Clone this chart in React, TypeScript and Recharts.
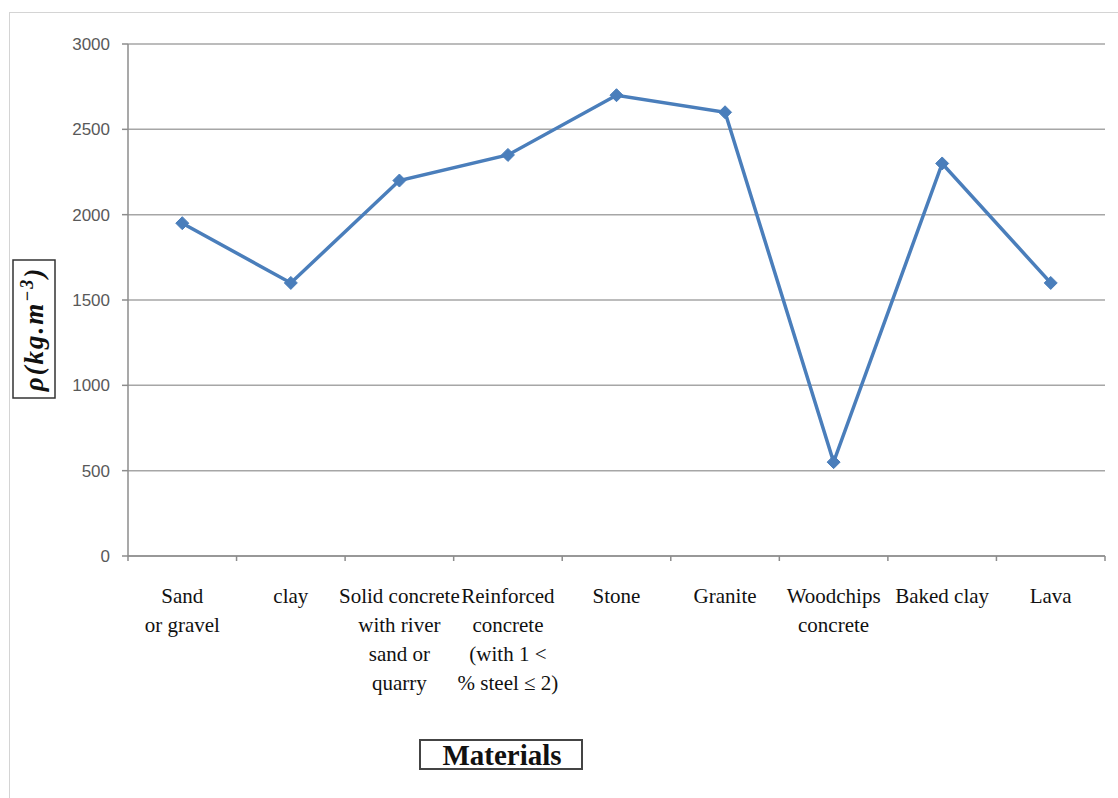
import { CartesianGrid, Label, Line, LineChart, XAxis, YAxis } from 'recharts';

const materials = [
	'Sand\nor gravel',
	'clay',
	'Solid concrete\nwith river\nsand or\nquarry',
	'Reinforced\nconcrete\n(with 1 <\n% steel ≤ 2)',
	'Stone',
	'Granite',
	'Woodchips\nconcrete',
	'Baked clay',
	'Lava',
];

const density = [1950, 1600, 2200, 2350, 2700, 2600, 550, 2300, 1600];

const densityTicks = [0, 500, 1000, 1500, 2000, 2500, 3000];

const data = materials.map((name, i) => ({ name, density: density[i] }));

const CHART_W = 1118;
const CHART_H = 798;
const PLOT_TOP = 44;
const PLOT_LEFT = 128;
const PLOT_RIGHT = 13;
const X_AXIS_H = 242;
const BAND = (CHART_W - PLOT_LEFT - PLOT_RIGHT) / materials.length;
const AXIS_GREY = '#8c8c8c';
const BLUE = '#4a7ebb';

// category labels sit under the band centre, tick marks fall on the band edges
const MaterialTick = (props: any) => {
	const { x, y, payload, index } = props;
	const lines: string[] = String(payload.value).split('\n');
	const half = BAND / 2;
	return (
		<g>
			<line x1={x - half} x2={x - half} y1={y} y2={y + 5} stroke={AXIS_GREY} strokeWidth={1.5} />
			{index === materials.length - 1 && (
				<line x1={x + half} x2={x + half} y1={y} y2={y + 5} stroke={AXIS_GREY} strokeWidth={1.5} />
			)}
			<text
				x={x}
				y={y + 47}
				textAnchor="middle"
				fontFamily="'Liberation Serif', serif"
				fontSize={21}
				fill="#111"
			>
				{lines.map((line, i) => (
					<tspan key={i} x={x} dy={i === 0 ? 0 : 29}>
						{line}
					</tspan>
				))}
			</text>
		</g>
	);
};

const Diamond = (props: any) => {
	const { cx, cy } = props;
	if (cx == null || cy == null) return null;
	const r = 6.5;
	return (
		<path
			d={`M${cx},${cy - r} L${cx + r},${cy} L${cx},${cy + r} L${cx - r},${cy} Z`}
			fill={BLUE}
			stroke={BLUE}
		/>
	);
};

const DensityLabel = () => (
	<g>
		<rect x={13} y={260} width={42} height={138} fill="#fff" stroke="#333" strokeWidth={1.5} />
		<text
			transform="translate(43,329) rotate(-90)"
			textAnchor="middle"
			fontFamily="'Liberation Serif', serif"
			fontStyle="italic"
			fontWeight="bold"
			fontSize={27}
			letterSpacing={2}
			fill="#111"
		>
			ρ(kg.m
			<tspan dy={-10} fontSize={18}>
				−3
			</tspan>
			<tspan dy={10}>)</tspan>
		</text>
	</g>
);

const MaterialsLabel = () => (
	<g>
		<rect x={420} y={740} width={162} height={29} fill="#fff" stroke="#444" strokeWidth={2} />
		<text
			x={502}
			y={765}
			textAnchor="middle"
			fontFamily="'Liberation Serif', serif"
			fontWeight="bold"
			fontSize={29}
			fill="#111"
		>
			Materials
		</text>
	</g>
);

const App = () => {
	return (
		<div
			style={{
				position: 'absolute',
				left: 0,
				top: 0,
				width: CHART_W,
				height: CHART_H,
				background: '#fff',
			}}
		>
			<div
				style={{
					position: 'absolute',
					left: 9,
					top: 12,
					right: -2,
					bottom: -2,
					border: '1.5px solid #d4d4d4',
				}}
			/>
			<LineChart
				width={CHART_W}
				height={CHART_H}
				data={data}
				margin={{ top: PLOT_TOP, right: PLOT_RIGHT, bottom: 0, left: 0 }}
				style={{ position: 'absolute', left: 0, top: 0 }}
			>
				<CartesianGrid vertical={false} stroke="#a6a6a6" strokeWidth={1.5} />
				<XAxis
					dataKey="name"
					interval={0}
					height={X_AXIS_H}
					padding={{ left: BAND / 2, right: BAND / 2 }}
					tickSize={0}
					tickMargin={0}
					tickLine={false}
					axisLine={{ stroke: AXIS_GREY, strokeWidth: 1.5 }}
					tick={<MaterialTick />}
				>
					<Label content={<MaterialsLabel />} />
				</XAxis>
				<YAxis
					width={PLOT_LEFT}
					domain={[0, 3000]}
					ticks={densityTicks}
					interval={0}
					tickSize={6}
					tickMargin={12}
					axisLine={{ stroke: AXIS_GREY, strokeWidth: 1.5 }}
					tickLine={{ stroke: AXIS_GREY, strokeWidth: 1.5 }}
					tick={{ fill: '#595959', fontSize: 17, fontFamily: "'Liberation Sans', sans-serif" }}
				>
					<Label content={<DensityLabel />} />
				</YAxis>
				<Line
					type="linear"
					dataKey="density"
					stroke={BLUE}
					strokeWidth={3.5}
					dot={<Diamond />}
					activeDot={false}
					isAnimationActive={false}
				/>
			</LineChart>
		</div>
	);
};

export default App;
